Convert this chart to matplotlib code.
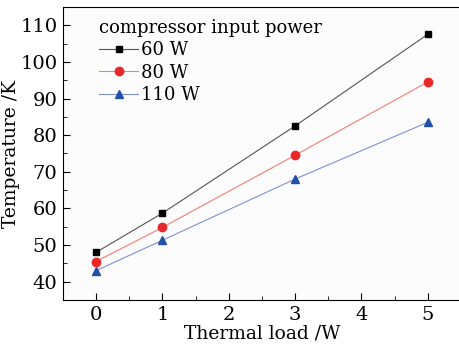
import matplotlib.pyplot as plt
from matplotlib.ticker import MultipleLocator

loads = [0, 1, 3, 5]
t_60w = [48.0, 58.7, 82.5, 107.5]
t_80w = [45.5, 54.8, 74.5, 94.5]
t_110w = [43.0, 51.3, 68.0, 83.5]

plt.rcParams['font.family'] = 'DejaVu Serif'
plt.rcParams['font.size'] = 14

fig = plt.figure(figsize=(4.59, 3.46), dpi=100)
ax = fig.add_axes([0.137, 0.133, 0.867, 0.847])

ax.plot(loads, t_60w, color='#555555', lw=0.8, marker='s', ms=5,
        mfc='black', mec='black', label='60 W')
ax.plot(loads, t_80w, color='#f08070', lw=0.8, marker='o', ms=6,
        mfc='#e82828', mec='#e82828', label='80 W')
ax.plot(loads, t_110w, color='#8090d0', lw=0.8, marker='^', ms=6,
        mfc='#2050a8', mec='#2050a8', label='110 W')

ax.set_xlim(-0.5, 5.5)
ax.set_ylim(35, 115)
ax.xaxis.set_major_locator(MultipleLocator(1))
ax.xaxis.set_minor_locator(MultipleLocator(0.5))
ax.yaxis.set_major_locator(MultipleLocator(10))
ax.yaxis.set_minor_locator(MultipleLocator(5))
ax.tick_params(which='both', direction='in', labelsize=14, pad=4)
ax.tick_params(which='major', length=5)
ax.tick_params(which='minor', length=3)
ax.set_xlabel('Thermal load /W', fontsize=13.5, labelpad=1)
ax.set_ylabel('Temperature /K', fontsize=13.5, labelpad=0)
ax.set_facecolor('#fcfcfc')

leg = ax.legend(title='compressor input power', loc='upper left', frameon=False,
                fontsize=13, title_fontsize=13, bbox_to_anchor=(0.09, 0.96),
                handlelength=2.2, handletextpad=0.15, labelspacing=0.25,
                borderaxespad=0.0, borderpad=0.0)
leg._legend_box.align = 'left'

fig.savefig('out.png')
